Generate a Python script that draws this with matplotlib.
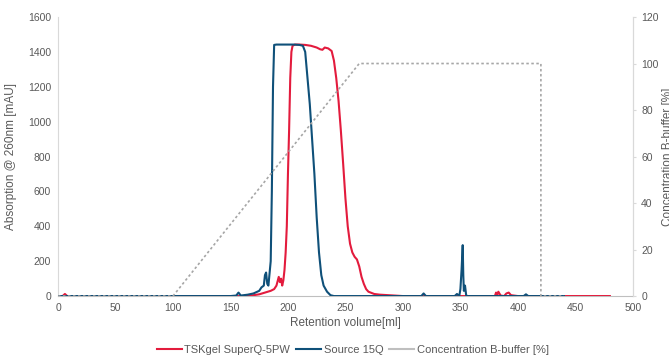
import matplotlib
matplotlib.use("Agg")
import matplotlib.pyplot as plt
from matplotlib.lines import Line2D

plt.rcParams['font.family'] = ['Liberation Sans', 'DejaVu Sans']

# TSKgel SuperQ-5PW trace (retention volume in ml, absorption in mAU)
tsk_vol = [0, 4, 6, 8, 100, 165, 170, 175, 180, 185, 188, 190, 192, 193, 194,
           195, 196, 197, 198, 199, 200, 201, 202, 203, 204, 206, 210, 215, 220,
           225, 228, 230, 232, 235, 238, 240, 242, 244, 246, 248, 250, 252, 254,
           256, 258, 260, 262, 264, 266, 268, 270, 275, 280, 290, 300, 380, 381,
           382, 383, 385, 388, 390, 392, 394, 400, 480]
tsk_abs = [0, 0, 12, 0, 0, 0, 5, 10, 20, 30, 40, 60, 110, 80, 100,
           60, 90, 150, 250, 400, 700, 950, 1250, 1400, 1435, 1442, 1442, 1440, 1435,
           1425, 1415, 1412, 1425, 1420, 1405, 1350, 1250, 1120, 950, 760, 560, 400, 300,
           250, 225, 210, 170, 110, 70, 40, 25, 12, 8, 4, 0, 0, 20,
           5, 25, 3, 0, 15, 20, 5, 0, 0]

# Source 15Q trace
src_vol = [0, 100, 150, 155, 157, 159, 165, 170, 175, 177, 179, 180, 181, 182,
           183, 184, 185, 186, 187, 188, 190, 195, 200, 205, 210, 213, 215, 217,
           219, 221, 223, 225, 227, 229, 231, 234, 237, 240, 300, 316, 318, 320,
           345, 347, 349, 350, 351, 352, 352.5, 353, 354, 355, 356, 360, 405, 407,
           409, 440]
src_abs = [0, 0, 0, 3, 20, 3, 8, 15, 30, 50, 60, 120, 135, 70,
           60, 130, 200, 600, 1200, 1440, 1442, 1442, 1442, 1442, 1440, 1435, 1400, 1250,
           1100, 900, 700, 450, 250, 120, 60, 25, 5, 0, 0, 0, 15, 0,
           0, 12, 0, 40, 150, 292, 120, 30, 60, 5, 0, 0, 0, 10,
           0, 0]

# gradient program, % B-buffer
grad_vol = [0, 100, 262, 420, 420, 440]
grad_pct = [0, 0, 100, 100, 0, 0]

red = '#e31b3d'
blue = '#0f5079'
gray = '#a6a6a6'
txt = '#595959'

fig = plt.figure(figsize=(6.69, 3.58), dpi=100)
ax = fig.add_axes([0.0867, 0.173, 0.8593, 0.7795])
ax2 = ax.twinx()

ax.plot(tsk_vol, tsk_abs, color=red, lw=1.5, zorder=3)
ax.plot(src_vol, src_abs, color=blue, lw=1.5, zorder=4)
ax2.plot(grad_vol, grad_pct, color=gray, lw=1.2, ls=(0, (1.5, 1.5)))

ax.set_xlim(0, 500)
ax.set_ylim(0, 1600)
ax2.set_ylim(0, 120)
ax.set_xticks(range(0, 501, 50))
ax.set_yticks(range(0, 1601, 200))
ax2.set_yticks(range(0, 121, 20))

for a in (ax, ax2):
    a.spines['top'].set_visible(False)
    a.spines['left'].set_color('#d9d9d9')
    a.spines['right'].set_color('#d9d9d9')
    a.spines['bottom'].set_color('#bfbfbf')
    a.tick_params(labelsize=7.5, labelcolor=txt)
ax.tick_params(axis='both', length=0, pad=5)
ax2.tick_params(axis='y', length=2, color='#d9d9d9', direction='out', pad=4)
ax2.spines['left'].set_visible(False)
ax2.spines['bottom'].set_visible(False)

ax.set_xlabel('Retention volume[ml]', fontsize=8.5, color=txt, labelpad=3)
ax.set_ylabel('Absorption @ 260nm [mAU]', fontsize=8.5, color=txt, labelpad=8)
fig.text(0.999, 0.5625, 'Concentration B-buffer [%]', rotation=90,
         ha='center', va='center', fontsize=8.5, color=txt)

handles = [Line2D([], [], color=red, lw=1.5),
           Line2D([], [], color=blue, lw=1.5),
           Line2D([], [], color='#bfbfbf', lw=1.5)]
labels = ['TSKgel SuperQ-5PW', 'Source 15Q', 'Concentration B-buffer [%]']
leg = fig.legend(handles, labels, loc='center', bbox_to_anchor=(0.527, 0.022),
                 ncol=3, frameon=False, fontsize=8, handlelength=2.3,
                 handletextpad=0.2, columnspacing=0.5)
for t in leg.get_texts():
    t.set_color(txt)

fig.savefig('out.png', dpi=100)
